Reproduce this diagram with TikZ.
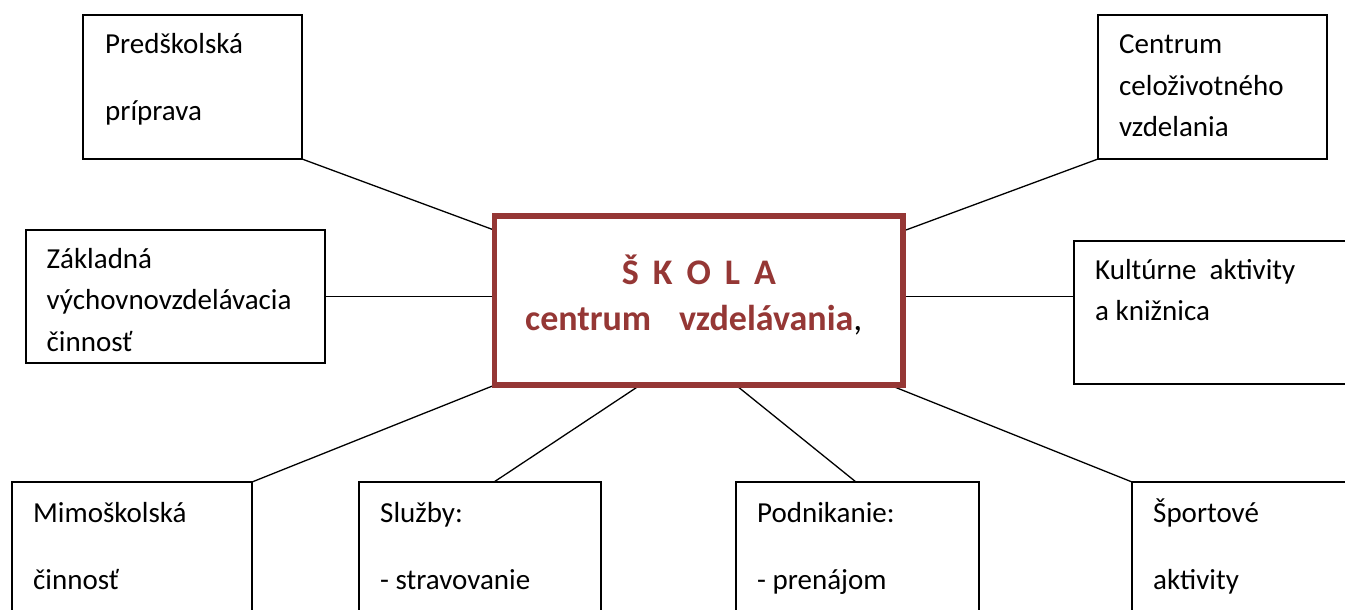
\documentclass[tikz,border=0pt]{standalone}
\usepackage{fontspec}
\setmainfont{Carlito}
\usetikzlibrary{calc}
\definecolor{skred}{RGB}{149,55,53}
\newcommand\fixsp{\spaceskip=6.6pt\relax}
\begin{document}
\begin{tikzpicture}[x=1pt,y=-1pt,
  box/.style={draw=black, line width=1.5pt, rectangle, inner sep=0pt, outer sep=0pt, anchor=north west},
  txt/.style={anchor=base west, inner sep=0pt, align=left, text width=300pt, font=\fontsize{29}{41.5}\selectfont, execute at begin node=\fixsp},
  txtw/.style={txt, font=\fontsize{29}{67}\selectfont},
  conn/.style={line width=1.3pt, draw=black}]
\useasboundingbox (0,0) rectangle (1345,610);
\clip (0,0) rectangle (1345,610);
\fill[white] (0,0) rectangle (1345,610);

% outer boxes
\node[box, minimum width=219pt, minimum height=144pt] (pred) at (83,15) {};
\node[box, minimum width=229pt, minimum height=144pt] (cent) at (1098,15) {};
\node[box, minimum width=299pt, minimum height=133pt] (zakl) at (26,230) {};
\node[box, minimum width=300pt, minimum height=143pt] (kult) at (1074,241) {};
\node[box, minimum width=240pt, minimum height=150pt] (mimo) at (12,482) {};
\node[box, minimum width=242pt, minimum height=150pt] (sluz) at (359,482) {};
\node[box, minimum width=243pt, minimum height=150pt] (podn) at (736,482) {};
\node[box, minimum width=250pt, minimum height=150pt] (sport) at (1132,482) {};

% central box
\node[box, draw=skred, line width=5.7pt, fill=white, minimum width=408.2pt, minimum height=169pt] (skola) at (494.5,216.2) {};

% connectors
\draw[conn] (pred.south east) -- ($(skola.north west)+(0,14)$);
\draw[conn] (cent.south west) -- ($(skola.north east)+(0,15)$);
\draw[conn] (zakl.east) -- (zakl.east -| skola.west);
\draw[conn] (skola.east |- zakl.east) -- (kult.west |- zakl.east);
\draw[conn] (mimo.north east) -- (skola.south west);
\draw[conn] ($(sluz.north west)+(135,0)$) -- ($(skola.south west)+(145.5,0)$);
\draw[conn] ($(podn.north west)+(120,0)$) -- ($(skola.south west)+(241.5,0)$);
\draw[conn] (sport.north west) -- ($(skola.south east)+(-12.7,0)$);

% redraw central border on top of connector ends
\draw[skred, line width=5.7pt] (skola.north west) rectangle (skola.south east);

% texts
\node[txtw] (predT) at (105,53.5) {Predškolská\\príprava};
\node[txt] (centT) at (1119,54) {Centrum\\celoživotného\\vzdelania};
\node[txt] (zaklT) at (46.5,268) {Základná\\výchovnovzdelávacia\\činnosť};
\node[txt] (kultT) at (1095,279.3) {Kultúrne\ \ aktivity\\a knižnica};
\node[txtw] (mimoT) at (33,522) {Mimoškolská\\činnosť};
\node[txtw] (sluzT) at (380,522) {Služby:\\- stravovanie};
\node[txtw] (podnT) at (757,522) {Podnikanie:\\- prenájom};
\node[txtw] (sportT) at (1153,522) {Športové\\aktivity};

\node[anchor=base, inner sep=0pt, text=skred, font=\bfseries\fontsize{36}{36}\selectfont] (skT1) at (699,284)
  {Š\hspace{14pt}K\hspace{14pt}O\hspace{14pt}L\hspace{14pt}A};
\node[anchor=base west, inner sep=0pt, text=skred, font=\bfseries\fontsize{36}{36}\selectfont] (skT2) at (525,330.7)
  {centrum\hspace{28pt}vzdelávania{\mdseries\color{black},}};
\end{tikzpicture}
\end{document}
